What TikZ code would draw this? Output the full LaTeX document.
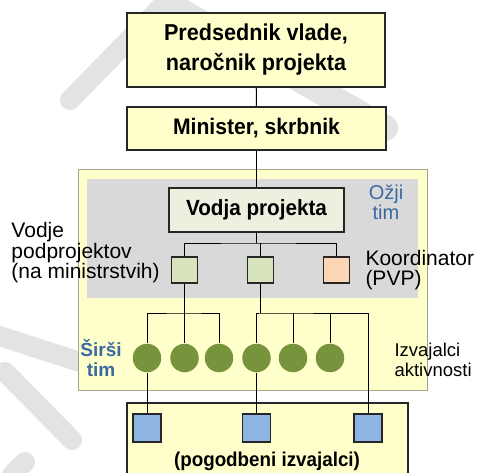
\documentclass[tikz,border=0pt]{standalone}
\usepackage{fontspec}
\setmainfont{Liberation Sans}
\newfontfamily\ozka{Liberation Sans}[FakeStretch=0.94]
\usepackage{tikz}
\usetikzlibrary{arrows,positioning}
\definecolor{rumena}{HTML}{FFFFCC}
\definecolor{obroba}{HTML}{A4A488}
\definecolor{siva}{HTML}{D9D9D9}
\definecolor{svetlozelena}{HTML}{EBF1DE}
\definecolor{zelena}{HTML}{D7E4BD}
\definecolor{oranzna}{HTML}{FCD5B5}
\definecolor{olivna}{HTML}{77933C}
\definecolor{modra}{HTML}{8EB4E3}
\definecolor{timmodra}{HTML}{3B69A3}
\definecolor{crta}{HTML}{262626}
\tikzstyle{okvir} = [rectangle, draw=crta, line width=1.6pt, fill=rumena,
    text centered, font=\ozka\bfseries\fontsize{22.5}{30}\selectfont, align=center]
\tikzstyle{kvadrat} = [rectangle, draw=crta, line width=1.4pt, inner sep=0pt,
    minimum size=26pt]
\tikzstyle{krog} = [circle, fill=olivna, inner sep=0pt, minimum size=28.5pt]
\tikzstyle{opis} = [inner sep=0pt, align=left, font=\fontsize{21}{20.5}\selectfont]
\tikzstyle{tim} = [inner sep=0pt, align=center, text=timmodra]
\tikzstyle{pecat} = [gray!22, line width=20pt, line cap=round]

\begin{document}
\begin{tikzpicture}[x=1pt,y=-1pt,line width=1pt]
  \clip (0,0) rectangle (479,473);
  \fill[white] (0,0) rectangle (479,473);
  % ozadje
  \draw[pecat] (70,100) -- (160,8);
  \draw[pecat, line width=26pt] (175,8) -- (385,128);
  \draw[pecat] (-10,333) -- (80,362);
  \draw[pecat] (5,372) -- (72,440);
  \draw[pecat] (12,475) -- (25,462);

  % skupine
  \draw[obroba, fill=rumena] (78,170) rectangle (427,390);
  \fill[siva] (87,179) rectangle (418,298);

  \node[okvir, font=\ozka\bfseries\fontsize{23}{30}\selectfont,
      minimum width=258pt, minimum height=74pt] (predsednik) at (256,50)
      {Predsednik vlade,\\naročnik projekta};
  \node[okvir, minimum width=259pt, minimum height=43pt] (minister) at (256.5,128.5)
      {Minister, skrbnik};
  \node[okvir, font=\ozka\bfseries\fontsize{22}{30}\selectfont, fill=svetlozelena,
      minimum width=175pt, minimum height=44pt] (vodja)
      at (256.5,210) {Vodja projekta};

  \node[kvadrat, fill=zelena]  (vp1)   at (184.5,270) {};
  \node[kvadrat, fill=zelena]  (vp2)   at (260.5,270) {};
  \node[kvadrat, fill=oranzna] (koord) at (336.5,270) {};

  \node[krog] (c1) at (147,358) {};
  \node[krog] (c2) at (184.5,358) {};
  \node[krog] (c3) at (219,358) {};
  \node[krog] (c4) at (256.5,358) {};
  \node[krog] (c5) at (293,358) {};
  \node[krog] (c6) at (330,358) {};

  \node[rectangle, draw=crta, line width=1.6pt, fill=rumena, minimum width=281pt,
      minimum height=100pt] (pogodbeni) at (267.5,453) {};
  \node[kvadrat, fill=modra, minimum size=28pt] (b1) at (147,428) {};
  \node[kvadrat, fill=modra, minimum size=28pt] (b2) at (256.5,428) {};
  \node[kvadrat, fill=modra, minimum size=28pt] (b3) at (368,428) {};
  \node[font=\ozka\bfseries\fontsize{20}{22}\selectfont, inner sep=0pt] (pogtxt)
      at (267,461) {(pogodbeni izvajalci)};

  % besedila
  \node[opis, anchor=west] (vodje) at (11,253)
      {Vodje\\podprojektov\\(na ministrstvih)};
  \node[opis, anchor=west] (koordtxt) at (365,270) {Koordinator\\(PVP)};
  \node[opis, anchor=west, font=\fontsize{18.5}{20}\selectfont] (izvajalci)
      at (394,360) {Izvajalci\\aktivnosti};
  \node[tim, font=\fontsize{20}{20}\selectfont] (ozji) at (386,202) {Ožji\\tim};
  \node[tim, font=\bfseries\fontsize{19}{20}\selectfont] (sirsi) at (101,358)
      {Širši\\tim};

  % povezave
  \coordinate (bus0) at (256.5,243);
  \coordinate (bus1) at (184.5,313);
  \coordinate (bus2) at (260.5,313);
  \draw (predsednik) -- (minister);
  \draw (minister) -- (vodja);
  \draw (vodja) -- (bus0);
  \draw (vp1.north) |- (bus0) -| (koord.north);
  \draw (vp2.north) -- (vp2.north |- bus0);
  \draw (vp1.south) -- (bus1) -- (c2.north);
  \draw (c1.north) |- (bus1) -| (c3.north);
  \draw (vp2.south) -- (bus2);
  \draw (c4.north) |- (bus2) -| (b3.north);
  \draw (c5.north) -- (c5.north |- bus2);
  \draw (c6.north) -- (c6.north |- bus2);
  \draw (c1) -- (b1);
  \draw (c4) -- (b2);
\end{tikzpicture}
\end{document}
